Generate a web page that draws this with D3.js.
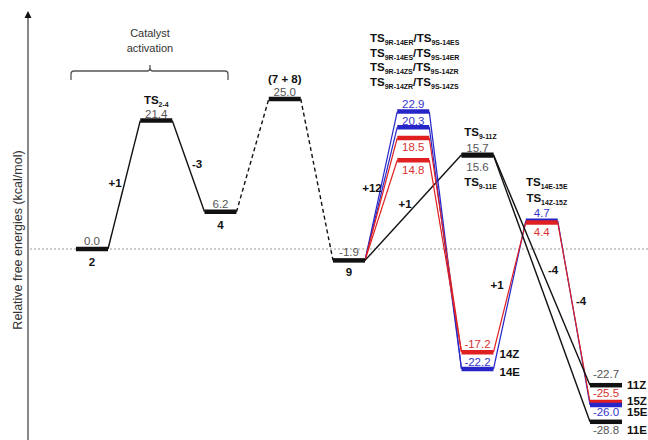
<!DOCTYPE html>
<html>
<head>
<meta charset="utf-8">
<script src="https://cdn.jsdelivr.net/npm/d3@7"></script>
<style>
  body { margin: 0; background: #fff; }
  text { font-family: "Liberation Sans", Arial, sans-serif; }
</style>
</head>
<body>
<svg id="chart" width="648" height="440"></svg>
<script>
// ---- data ----
const columns = ["2", "TS2-4", "4", "7+8", "9", "TS9-14", "TS9-11/14", "TS14-15", "11/15"];

const levelIds = ["2", "TS2-4", "4", "7+8", "9",
  "TS9R-14ER", "TS9R-14ES", "TS9R-14ZS", "TS9R-14ZR",
  "TS9-11Z", "TS9-11E", "14Z", "14E",
  "TS14E-15E", "TS14Z-15Z", "11Z", "15Z", "15E", "11E"];
const levelCols = [0, 1, 2, 3, 4, 5, 5, 5, 5, 6, 6, 6, 6, 7, 7, 8, 8, 8, 8];
// energies as drawn in the figure (14E is drawn higher than its printed value)
const levelEnergies = [0.0, 21.4, 6.2, 25.0, -1.9, 22.9, 20.3, 18.5, 14.8,
  15.7, 15.6, -17.2, -20.0, 4.7, 4.4, -22.7, -25.5, -26.0, -28.8];
const levelValues = ["0.0", "21.4", "6.2", "25.0", "-1.9", "22.9", "20.3", "18.5", "14.8",
  "15.7", "15.6", "-17.2", "-22.2", "4.7", "4.4", "-22.7", "-25.5", "-26.0", "-28.8"];
const levelSeries = ["k", "k", "k", "k", "k", "E", "E", "Z", "Z",
  "k", "k", "Z", "E", "E", "Z", "k", "Z", "E", "k"];

const links = [
  ["2", "TS2-4"], ["TS2-4", "4"], ["4", "7+8"], ["7+8", "9"],
  ["9", "TS9R-14ER"], ["9", "TS9R-14ES"], ["9", "TS9R-14ZS"], ["9", "TS9R-14ZR"],
  ["9", "TS9-11Z"],
  ["TS9R-14ER", "14E"], ["TS9R-14ES", "14E"], ["TS9R-14ZS", "14Z"], ["TS9R-14ZR", "14Z"],
  ["14E", "TS14E-15E"], ["14Z", "TS14Z-15Z"],
  ["TS14E-15E", "15E"], ["TS14Z-15Z", "15Z"],
  ["TS9-11Z", "11Z"], ["TS9-11E", "11E"]
];
const dashedLinks = ["4>7+8", "7+8>9"];

const stepLabels = ["+1", "-3", "+12", "+1", "-4", "+1", "-4"];
const ts914Lines = [["9R-14ER", "9S-14ES"], ["9R-14ES", "9S-14ER"], ["9R-14ZS", "9S-14ZR"], ["9R-14ZR", "9S-14ZS"]];

// ---- layout ----
const svg = d3.select("#chart");
const x = d3.scalePoint().domain(columns).range([92, 606]);
const y = d3.scaleLinear().domain([0, 25]).range([249, 99]);
const HALF = 16;
const color = { k: "#111", E: "#2626c8", Z: "#e02020" };
const textColor = { k: "#555", E: "#3434cc", Z: "#d83030" };

const levels = levelIds.map((id, i) => ({
  id, col: columns[levelCols[i]], e: levelEnergies[i], value: levelValues[i], s: levelSeries[i]
}));
const byId = new Map(levels.map(d => [d.id, d]));

// axis
svg.append("line").attr("x1", 28).attr("x2", 28).attr("y1", 16).attr("y2", 440)
  .attr("stroke", "#888").attr("stroke-width", 2);
svg.append("path").attr("d", "M28,11 L24.5,18 L31.5,18 Z").attr("fill", "#111");
svg.append("text").attr("transform", "translate(22,240) rotate(-90)")
  .attr("text-anchor", "middle").attr("font-size", 12.5).attr("fill", "#333")
  .text("Relative free energies (kcal/mol)");

// zero reference line
svg.append("line").attr("x1", 30).attr("x2", 648).attr("y1", y(0)).attr("y2", y(0))
  .attr("stroke", "#999").attr("stroke-width", 1).attr("stroke-dasharray", "2,2");

// bracket
svg.append("path")
  .attr("d", "M71,80 L71,74 Q71,71 74,71 L147,71 Q150,71 150,68 L150,65 L150,68 Q150,71 153,71 L225,71 Q228,71 228,74 L228,80")
  .attr("fill", "none").attr("stroke", "#555").attr("stroke-width", 1.3);
svg.append("text").attr("x", 150).attr("y", 37).attr("text-anchor", "middle")
  .attr("font-size", 11).attr("fill", "#333").text("Catalyst");
svg.append("text").attr("x", 150).attr("y", 52).attr("text-anchor", "middle")
  .attr("font-size", 11).attr("fill", "#333").text("activation");

// connectors
svg.append("g").selectAll("line").data(links).join("line")
  .attr("x1", d => x(byId.get(d[0]).col) + HALF)
  .attr("y1", d => y(byId.get(d[0]).e))
  .attr("x2", d => x(byId.get(d[1]).col) - HALF)
  .attr("y2", d => y(byId.get(d[1]).e))
  .attr("stroke", d => {
    const s = byId.get(d[1]).s === "k" ? byId.get(d[0]).s : byId.get(d[1]).s;
    return color[s];
  })
  .attr("stroke-width", d => byId.get(d[1]).s === "k" && byId.get(d[0]).s === "k" ? 1.4 : 1.2)
  .attr("stroke-dasharray", d => dashedLinks.includes(d[0] + ">" + d[1]) ? "4,3" : null);

// level bars
svg.append("g").selectAll("line").data(levels).join("line")
  .attr("x1", d => x(d.col) - HALF).attr("x2", d => x(d.col) + HALF)
  .attr("y1", d => y(d.e)).attr("y2", d => y(d.e))
  .attr("stroke", d => color[d.s]).attr("stroke-width", 4.5);

// value labels: offset from bar (negative = above)
const valueOffset = {
  "2": -4, "TS2-4": -3, "4": -4, "7+8": -3, "9": -4,
  "TS9R-14ER": -4, "TS9R-14ES": -2, "TS9R-14ZS": 13, "TS9R-14ZR": 14,
  "TS9-11Z": -3, "TS9-11E": 16, "14Z": -4, "14E": -3,
  "TS14E-15E": -4, "TS14Z-15Z": 13, "11Z": -7, "15Z": -5, "15E": 11, "11E": 12
};
svg.append("g").selectAll("text").data(levels).join("text")
  .attr("x", d => x(d.col)).attr("y", d => y(d.e) + valueOffset[d.id])
  .attr("text-anchor", "middle").attr("font-size", 11.5)
  .attr("fill", d => textColor[d.s]).text(d => d.value);

// name labels
function label(px, py, main, sub, anchor = "middle", size = 11.5) {
  const t = svg.append("text").attr("x", px).attr("y", py).attr("text-anchor", anchor)
    .attr("font-size", size).attr("font-weight", "bold").attr("fill", "#111");
  t.append("tspan").text(main);
  if (sub) t.append("tspan").attr("font-size", size * 0.6).attr("dy", 2.5).text(sub);
  return t;
}
label(x("2"), y(0) + 17, "2");
label(x("TS2-4"), 104, "TS", "2-4");
label(x("4"), y(6.2) + 17, "4");
label(x("7+8"), 83, "(7 + 8)");
label(x("9"), y(-1.9) + 16, "9");
label(x("TS9-11/14") + 3, 136, "TS", "9-11Z");
label(x("TS9-11/14") + 3, 186, "TS", "9-11E");
label(x("TS14-15") + 5, 186, "TS", "14E-15E");
label(x("TS14-15") + 5, 202, "TS", "14Z-15Z");
label(x("TS9-11/14") + 22, y(-17.2) + 6, "14Z", null, "start");
label(x("TS9-11/14") + 22, y(-20.0) + 7, "14E", null, "start");
label(x("11/15") + 21, y(-22.7) + 4, "11Z", null, "start");
label(x("11/15") + 21, y(-25.5) + 3, "15Z", null, "start");
label(x("11/15") + 21, y(-26.0) + 11, "15E", null, "start");
label(x("11/15") + 21, y(-28.8) + 12, "11E", null, "start");

ts914Lines.forEach((pair, i) => {
  const t = svg.append("text").attr("x", 370).attr("y", 42 + i * 14.7)
    .attr("font-size", 11.5).attr("font-weight", "bold").attr("fill", "#111");
  t.append("tspan").text("TS");
  t.append("tspan").attr("font-size", 7).attr("dy", 3).text(pair[0]);
  t.append("tspan").attr("dy", -3).text("/TS");
  t.append("tspan").attr("font-size", 7).attr("dy", 3).text(pair[1]);
});

// step labels
const stepPos = [[115, 187], [197, 168], [372, 192], [405, 208], [553, 274], [497, 289], [581, 305]];
svg.append("g").selectAll("text").data(stepLabels).join("text")
  .attr("x", (d, i) => stepPos[i][0]).attr("y", (d, i) => stepPos[i][1])
  .attr("text-anchor", "middle").attr("font-size", 11.5).attr("font-weight", "bold")
  .attr("fill", "#111").text(d => d);
</script>
</body>
</html>
